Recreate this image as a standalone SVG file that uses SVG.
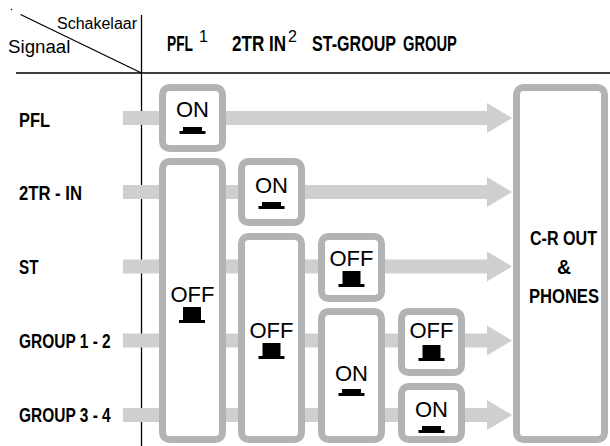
<svg xmlns="http://www.w3.org/2000/svg" xmlns:xlink="http://www.w3.org/1999/xlink" width="610" height="446" viewBox="0 0 610 446">
<style>
.box{fill:#fff;stroke:#b3b3b3;stroke-width:7}
.band{fill:#cfcfcf}
.lbl{font-family:"Liberation Sans",Arial,sans-serif;font-weight:bold;font-size:19.5px;fill:#000}
.hdr{font-family:"Liberation Sans",Arial,sans-serif;font-weight:bold;font-size:22px;fill:#000}
.sup{font-family:"Liberation Sans",Arial,sans-serif;font-size:16px;fill:#000}
.st{font-family:"Liberation Sans",Arial,sans-serif;font-size:22px;fill:#000;text-anchor:middle}
.thin{font-family:"Liberation Sans",Arial,sans-serif;font-size:16px;fill:#000}
.ln{stroke:#000;stroke-width:1.3;fill:none}
</style>
<defs>
<g id="onIcon"><rect x="-9.5" y="0" width="19" height="4"/><rect x="-13" y="4" width="26" height="3"/></g>
<g id="offIcon"><rect x="-9" y="0" width="18" height="13"/><rect x="-13" y="13" width="26" height="3"/></g>
</defs>
<rect width="610" height="446" fill="#fff"/>
<g id="header">
<circle cx="11.5" cy="9.5" r="0.8" fill="#000"/>
<line class="ln" x1="20.5" y1="14.5" x2="141.5" y2="73"/>
<line class="ln" x1="16" y1="73" x2="610" y2="73"/>
<line class="ln" x1="141.5" y1="15" x2="141.5" y2="446"/>
<text class="thin" x="57" y="29">Schakelaar</text>
<text class="thin" transform="translate(8 53) scale(1.04 1)" style="font-size:18px">Signaal</text>
<text class="hdr" transform="translate(167 51) scale(0.626 1)">PFL</text>
<text class="sup" x="199" y="42">1</text>
<text class="hdr" transform="translate(232 51) scale(0.775 1)">2TR IN</text>
<text class="sup" x="288" y="42">2</text>
<text class="hdr" transform="translate(312 51) scale(0.732 1)">ST-GROUP</text>
<text class="hdr" transform="translate(403 51) scale(0.669 1)">GROUP</text>
</g>
<g id="row-labels">
<text class="lbl" transform="translate(19 127) scale(0.842 1)">PFL</text>
<text class="lbl" transform="translate(19 200) scale(0.855 1)">2TR - IN</text>
<text class="lbl" transform="translate(19 274) scale(0.78 1)">ST</text>
<text class="lbl" transform="translate(19 348) scale(0.794 1)">GROUP 1 - 2</text>
<text class="lbl" transform="translate(19 422) scale(0.794 1)">GROUP 3 - 4</text>
</g>
<g id="connectors">
<path class="band" d="M123 111H487V103L512 118L487 133V125H123Z"/>
<path class="band" d="M123 185H487V177L512 192L487 207V199H123Z"/>
<path class="band" d="M123 259.5H487V251.5L512 266.5L487 281.5V273.5H123Z"/>
<path class="band" d="M123 333.5H487V325.5L512 340.5L487 355.5V347.5H123Z"/>
<path class="band" d="M123 408H487V400L512 415L487 430V422H123Z"/>
</g>
<g id="pfl-on">
<rect class="box" x="162.5" y="87.5" width="60" height="61" rx="7"/>
<text class="st" x="192.5" y="117">ON</text>
<use xlink:href="#onIcon" transform="translate(192.5 127)"/>
</g>
<g id="pfl-off">
<rect class="box" x="162.5" y="161.5" width="60" height="278" rx="7"/>
<text class="st" x="192.5" y="302">OFF</text>
<use xlink:href="#offIcon" transform="translate(192 307)"/>
</g>
<g id="tr-on">
<rect class="box" x="241.5" y="161.5" width="60" height="61" rx="7"/>
<text class="st" x="271.5" y="193">ON</text>
<use xlink:href="#onIcon" transform="translate(271.5 202)"/>
</g>
<g id="tr-off">
<rect class="box" x="241.5" y="236.5" width="60" height="203" rx="7"/>
<text class="st" x="271.5" y="338">OFF</text>
<use xlink:href="#offIcon" transform="translate(271.5 343)"/>
</g>
<g id="stgroup-off">
<rect class="box" x="321.5" y="236.5" width="60" height="62" rx="7"/>
<text class="st" x="351.5" y="266">OFF</text>
<use xlink:href="#offIcon" transform="translate(351.5 271)"/>
</g>
<g id="stgroup-on">
<rect class="box" x="321.5" y="311.5" width="60" height="128" rx="7"/>
<text class="st" x="351.5" y="381">ON</text>
<use xlink:href="#onIcon" transform="translate(351.5 389)"/>
</g>
<g id="group-off">
<rect class="box" x="401.5" y="311.5" width="60" height="61" rx="7"/>
<text class="st" x="431.5" y="338">OFF</text>
<use xlink:href="#offIcon" transform="translate(431.5 345)"/>
</g>
<g id="group-on">
<rect class="box" x="401.5" y="386.5" width="60" height="53" rx="7"/>
<text class="st" x="431.5" y="417">ON</text>
<use xlink:href="#onIcon" transform="translate(431.5 426)"/>
</g>
<g id="cr-out">
<rect class="box" x="516.5" y="87.5" width="88" height="352" rx="7"/>
<text class="lbl" transform="translate(530 245) scale(0.825 1)">C-R OUT</text>
<text class="lbl" x="564" y="274" text-anchor="middle">&amp;</text>
<text class="lbl" transform="translate(529 303) scale(0.85 1)">PHONES</text>
</g>
</svg>
